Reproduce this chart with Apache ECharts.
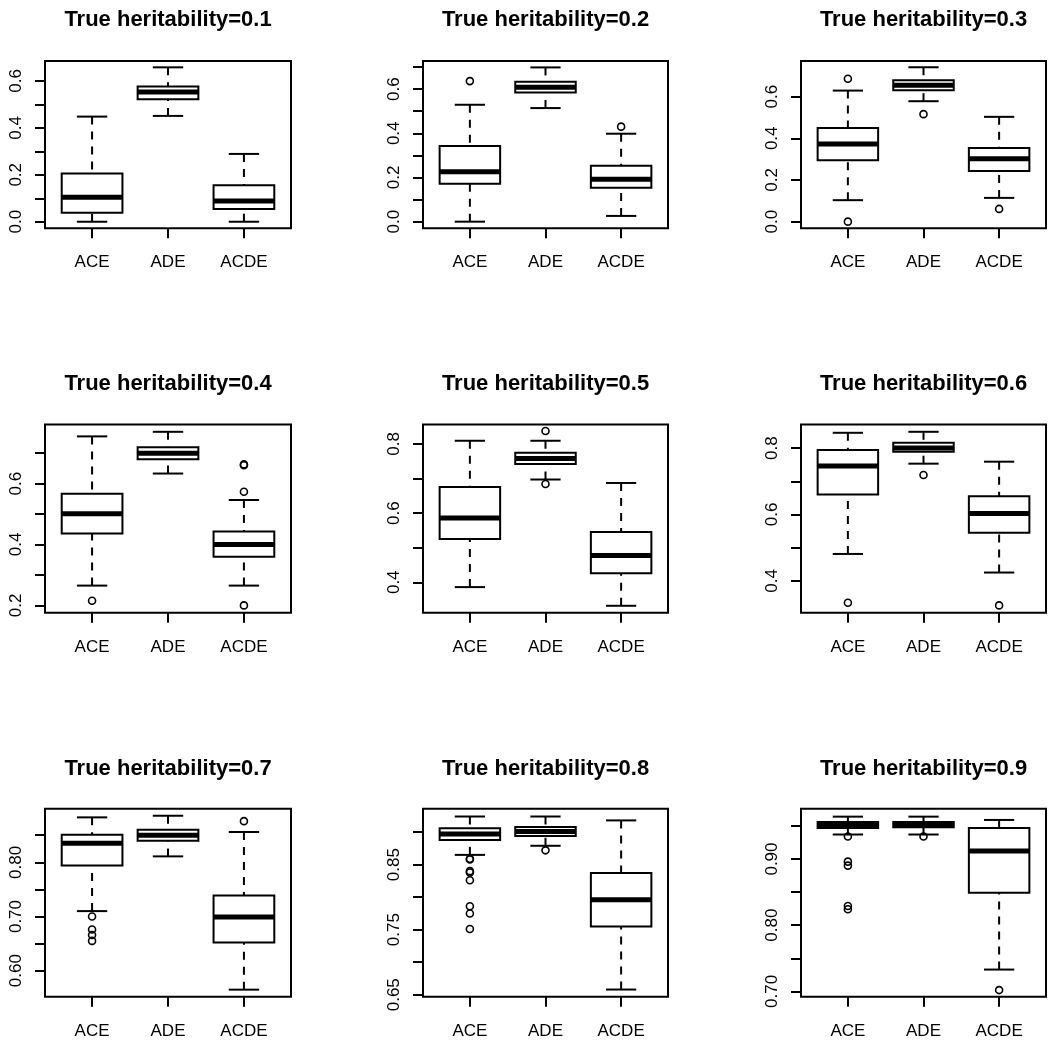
<!DOCTYPE html>
<html><head><meta charset="utf-8">
<script src="https://cdn.jsdelivr.net/npm/echarts@6/dist/echarts.min.js"></script>
<style>html,body{margin:0;padding:0;background:#fff}#c{width:1050px;height:1043px}</style>
</head><body><div id="c"></div>
<script>
// ---------- data ----------
const models = ['ACE', 'ADE', 'ACDE'];
const panelTitles = ['True heritability=0.1','True heritability=0.2','True heritability=0.3',
  'True heritability=0.4','True heritability=0.5','True heritability=0.6',
  'True heritability=0.7','True heritability=0.8','True heritability=0.9'];

// box stats per model: [lower whisker, Q1, median, Q3, upper whisker]
const stats01 = [[0.000,0.038,0.104,0.206,0.448],[0.451,0.522,0.553,0.576,0.658],[0.000,0.054,0.088,0.156,0.289]];
const stats02 = [[0.000,0.172,0.226,0.342,0.529],[0.514,0.584,0.608,0.633,0.698],[0.026,0.154,0.192,0.253,0.398]];
const stats03 = [[0.103,0.295,0.373,0.450,0.629],[0.578,0.631,0.655,0.679,0.741],[0.114,0.243,0.302,0.354,0.503]];
const stats04 = [[0.265,0.436,0.501,0.567,0.755],[0.633,0.680,0.700,0.719,0.770],[0.265,0.360,0.400,0.443,0.546]];
const stats05 = [[0.386,0.525,0.586,0.675,0.809],[0.697,0.742,0.758,0.774,0.809],[0.332,0.426,0.477,0.545,0.687]];
const stats06 = [[0.481,0.660,0.746,0.794,0.846],[0.753,0.789,0.800,0.816,0.849],[0.425,0.545,0.603,0.655,0.759]];
const stats07 = [[0.710,0.794,0.835,0.851,0.883],[0.811,0.840,0.850,0.860,0.886],[0.565,0.652,0.699,0.739,0.856]];
const stats08 = [[0.865,0.888,0.897,0.906,0.924],[0.879,0.894,0.901,0.908,0.924],[0.658,0.755,0.796,0.837,0.918]];
const stats09 = [[0.937,0.947,0.952,0.956,0.964],[0.937,0.948,0.952,0.956,0.964],[0.733,0.849,0.912,0.947,0.959]];

// outliers per model
const out01 = [[], [], []];
const out02 = [[0.636], [], [0.430]];
const out03 = [[0.686, 0.000], [0.516], [0.061]];
const out04 = [[0.215], [], [0.663, 0.660, 0.573, 0.200]];
const out05 = [[], [0.837, 0.684], []];
const out06 = [[0.334], [0.719], [0.326]];
const out07 = [[0.700, 0.676, 0.666, 0.655], [], [0.876]];
const out08 = [[0.859, 0.858, 0.840, 0.838, 0.826, 0.786, 0.775, 0.751], [0.872], []];
const out09 = [[0.934, 0.896, 0.890, 0.829, 0.824], [0.934], [0.702]];

// y-axis ranges, ticks and labels
const yMin = [-0.028, -0.030, -0.032, 0.176, 0.312, 0.304, 0.552, 0.647, 0.692];
const yMax = [0.685, 0.727, 0.771, 0.794, 0.856, 0.871, 0.899, 0.936, 0.976];
const ticks01 = [0, 0.1, 0.2, 0.3, 0.4, 0.5, 0.6];
const ticks02 = [0, 0.1, 0.2, 0.3, 0.4, 0.5, 0.6, 0.7];
const ticks03 = [0, 0.2, 0.4, 0.6];
const ticks04 = [0.2, 0.3, 0.4, 0.5, 0.6, 0.7];
const ticks05 = [0.4, 0.5, 0.6, 0.7, 0.8];
const ticks06 = [0.4, 0.5, 0.6, 0.7, 0.8];
const ticks07 = [0.60, 0.65, 0.70, 0.75, 0.80, 0.85];
const ticks08 = [0.65, 0.70, 0.75, 0.80, 0.85, 0.90];
const ticks09 = [0.70, 0.75, 0.80, 0.85, 0.90, 0.95];
const labels01 = [0, 0.2, 0.4, 0.6];
const labels02 = [0, 0.2, 0.4, 0.6];
const labels03 = [0, 0.2, 0.4, 0.6];
const labels04 = [0.2, 0.4, 0.6];
const labels05 = [0.4, 0.6, 0.8];
const labels06 = [0.4, 0.6, 0.8];
const labels07 = [0.60, 0.70, 0.80];
const labels08 = [0.65, 0.75, 0.85];
const labels09 = [0.70, 0.80, 0.90];
const labelDecimals = [1, 1, 1, 1, 1, 1, 2, 2, 2];

// ---------- build ----------
const allStats = [stats01, stats02, stats03, stats04, stats05, stats06, stats07, stats08, stats09];
const allOut = [out01, out02, out03, out04, out05, out06, out07, out08, out09];
const allTicks = [ticks01, ticks02, ticks03, ticks04, ticks05, ticks06, ticks07, ticks08, ticks09];
const allLabels = [labels01, labels02, labels03, labels04, labels05, labels06, labels07, labels08, labels09];

const FONT = '"Liberation Sans", Arial, Helvetica, sans-serif';
const colLeft = [45, 423, 801];
const colWidth = [246, 245, 245];
const rowTop = [61, 424.5, 808.7];
const rowHeight = [167.3, 188.2, 188];
const titleTop = [9, 372.5, 757.5];

const grids = [], xAxes = [], yAxes = [], series = [], titles = [];

function renderBox(params, api) {
  const x = api.value(0);
  const lo = api.value(1), q1 = api.value(2), med = api.value(3), q3 = api.value(4), hi = api.value(5);
  const hw = 0.4, cw = 0.2;
  const tl = api.coord([x - hw, q3]);
  const br = api.coord([x + hw, q1]);
  const mL = api.coord([x - hw, med]), mR = api.coord([x + hw, med]);
  const cHi = api.coord([x, hi]), cQ3 = api.coord([x, q3]);
  const cLo = api.coord([x, lo]), cQ1 = api.coord([x, q1]);
  const capHiL = api.coord([x - cw, hi]), capHiR = api.coord([x + cw, hi]);
  const capLoL = api.coord([x - cw, lo]), capLoR = api.coord([x + cw, lo]);
  const solid = {stroke: '#000', lineWidth: 2, fill: null};
  const dashed = {stroke: '#000', lineWidth: 2, lineDash: [8, 7], fill: null};
  return {
    type: 'group',
    children: [
      {type: 'line', shape: {x1: cHi[0], y1: cHi[1], x2: cQ3[0], y2: cQ3[1]}, style: dashed},
      {type: 'line', shape: {x1: cLo[0], y1: cLo[1], x2: cQ1[0], y2: cQ1[1]}, style: dashed},
      {type: 'line', shape: {x1: capHiL[0], y1: capHiL[1], x2: capHiR[0], y2: capHiR[1]}, style: solid},
      {type: 'line', shape: {x1: capLoL[0], y1: capLoL[1], x2: capLoR[0], y2: capLoR[1]}, style: solid},
      {type: 'rect', shape: {x: tl[0], y: tl[1], width: br[0] - tl[0], height: br[1] - tl[1]},
        style: {stroke: '#000', lineWidth: 2, fill: '#fff'}},
      {type: 'line', shape: {x1: mL[0], y1: mL[1], x2: mR[0], y2: mR[1]},
        style: {stroke: '#000', lineWidth: 5, fill: null}}
    ]
  };
}

for (let p = 0; p < 9; p++) {
  const r = Math.floor(p / 3), c = p % 3;
  grids.push({
    left: colLeft[c], top: rowTop[r], width: colWidth[c], height: rowHeight[r],
    show: true, borderColor: '#000', borderWidth: 2, backgroundColor: 'transparent'
  });
  titles.push({
    text: panelTitles[p], left: colLeft[c] + colWidth[c] / 2, top: titleTop[r],
    textAlign: 'center', padding: 0,
    textStyle: {fontFamily: FONT, fontSize: 22, fontWeight: 'bold', color: '#000'}
  });
  xAxes.push({
    type: 'value', gridIndex: p, min: 0.38, max: 3.62,
    axisLine: {show: false, onZero: false},
    splitLine: {show: false},
    axisTick: {show: true, inside: false, length: 10, customValues: [1, 2, 3],
      lineStyle: {color: '#000', width: 2}},
    axisLabel: {show: true, customValues: [1, 2, 3], margin: 26, fontSize: 17, color: '#000',
      fontFamily: FONT, formatter: v => models[Math.round(v) - 1]}
  });
  const dec = labelDecimals[p];
  yAxes.push({
    type: 'value', gridIndex: p, min: yMin[p], max: yMax[p],
    axisLine: {show: false, onZero: false},
    splitLine: {show: false},
    axisTick: {show: true, inside: false, length: 10, customValues: allTicks[p],
      lineStyle: {color: '#000', width: 2}},
    axisLabel: {show: true, customValues: allLabels[p], rotate: 90, margin: 20, fontSize: 17,
      color: '#000', fontFamily: FONT, formatter: v => Number(v).toFixed(dec)}
  });
  const boxData = allStats[p].map((s, i) => [i + 1, s[0], s[1], s[2], s[3], s[4]]);
  series.push({
    type: 'custom', xAxisIndex: p, yAxisIndex: p, renderItem: renderBox,
    data: boxData, encode: {x: 0, y: [1, 2, 3, 4, 5]}, clip: false, silent: true
  });
  const outData = [];
  allOut[p].forEach((arr, i) => arr.forEach(v => outData.push([i + 1, v])));
  series.push({
    type: 'scatter', xAxisIndex: p, yAxisIndex: p, data: outData,
    symbol: 'circle', symbolSize: 7, silent: true, z: 5,
    itemStyle: {color: 'rgba(255,255,255,0)', borderColor: '#000', borderWidth: 1.6, opacity: 1}
  });
}

const chart = echarts.init(document.getElementById('c'), null, {renderer: 'canvas'});
chart.setOption({
  backgroundColor: '#fff',
  animation: false,
  title: titles,
  grid: grids,
  xAxis: xAxes,
  yAxis: yAxes,
  series: series
});
</script>
</body></html>
